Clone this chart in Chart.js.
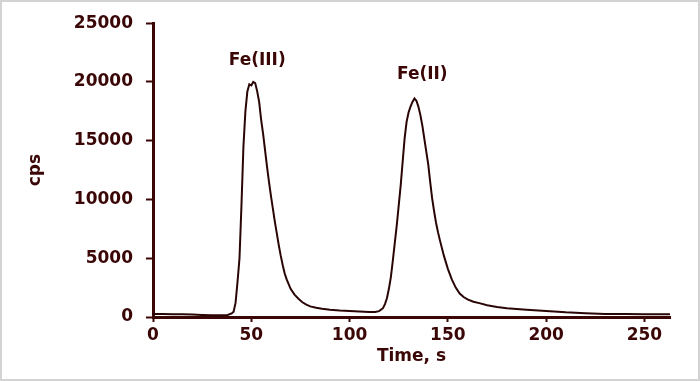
<!DOCTYPE html>
<html>
<head>
<meta charset="utf-8">
<script src="https://cdn.jsdelivr.net/npm/chart.js@4/dist/chart.umd.min.js"></script>
<style>
html,body{margin:0;padding:0;background:#fff;}
#wrap{width:700px;height:381px;position:relative;}
</style>
</head>
<body>
<div id="wrap"><canvas id="c" width="700" height="381"></canvas></div>
<script>
// Data
const times = [0,5,10,15,20,25,30,35,38,40,41,42,43,44,45,46,47,48,49,50,51,52,53,54,55,56,57,58,59,60,61,62,63,64,65,66,67,68,70,72,74,76,78,80,83,86,90,95,100,105,110,113,115,117,118,119,120,121,122,123,124,125,126,127,128,129,130,131,132,133,134,135,136,137,138,139,140,141,142,143,144,145,146,148,150,152,154,156,158,160,163,166,170,175,180,185,190,200,210,220,230,240,250,263];
const cps = [250,250,230,240,220,180,150,150,170,300,450,1200,3000,5000,9500,14500,17500,19200,19800,19700,20000,19900,19200,18300,16800,15600,14200,12800,11500,10300,9200,8100,7100,6100,5200,4400,3700,3200,2400,1900,1550,1250,1050,900,780,700,620,560,520,470,420,430,500,750,1100,1600,2400,3400,4800,6300,7800,9500,11200,13200,15200,16600,17400,17900,18300,18600,18400,17900,17200,16300,15200,14100,13000,11500,10100,9000,8000,7200,6500,5200,4100,3200,2500,2000,1700,1500,1300,1180,1000,850,750,680,620,520,400,320,260,250,240,240];
const yTicks = [0,5000,10000,15000,20000,25000];
const xTicks = [0,50,100,150,200,250];
const peakLabels = ['Fe(III)','Fe(II)'];
const peakLabelTimes = [53,137];
const peakLabelCps = [21800,20600];

const brown = '#3a0606';
const fontFam = '"DejaVu Sans", Verdana, sans-serif';

const points = times.map((t,i)=>({x:t,y:cps[i]}));

const framePlugin = {
  id:'frame',
  beforeDraw(chart){
    const ctx = chart.ctx;
    ctx.save();
    ctx.fillStyle='#fff';
    ctx.fillRect(0,0,chart.width,chart.height);
    ctx.restore();
  },
  afterDraw(chart){
    const ctx = chart.ctx;
    ctx.save();
    ctx.strokeStyle='#d3d3d3';
    ctx.lineWidth=2;
    ctx.strokeRect(1,1,chart.width-2,chart.height-2);
    ctx.restore();
  }
};

const peakLabelPlugin = {
  id:'peakLabels',
  afterDatasetsDraw(chart){
    const ctx = chart.ctx;
    const xs = chart.scales.x, ys = chart.scales.y;
    ctx.save();
    ctx.fillStyle = brown;
    ctx.font = 'bold 17px ' + fontFam;
    ctx.textAlign='center';
    ctx.textBaseline='middle';
    peakLabels.forEach((lab,i)=>{
      ctx.fillText(lab, xs.getPixelForValue(peakLabelTimes[i]), ys.getPixelForValue(peakLabelCps[i]));
    });
    ctx.restore();
  }
};

new Chart(document.getElementById('c'), {
  type:'line',
  data:{
    datasets:[{
      data: points,
      borderColor:'#2a0505',
      borderWidth:2,
      pointRadius:0,
      tension:0,
      fill:false
    }]
  },
  plugins:[framePlugin, peakLabelPlugin],
  options:{
    responsive:false,
    animation:false,
    layout:{padding:{top:22,right:30,left:0,bottom:0}},
    plugins:{legend:{display:false},tooltip:{enabled:false}},
    scales:{
      x:{
        type:'linear',
        min:0,max:263,
        afterBuildTicks(scale){ scale.ticks = xTicks.map(v=>({value:v})); },
        afterFit(scale){ scale.height = 64; },
        border:{display:true,color:brown,width:3},
        grid:{drawOnChartArea:false,drawTicks:true,tickLength:5,tickColor:brown,tickWidth:2},
        ticks:{color:brown,font:{family:fontFam,size:17,weight:'bold'},padding:3,maxRotation:0,callback:v=>String(v)},
        title:{display:true,text:'Time, s',color:brown,font:{family:fontFam,size:17,weight:'bold'},padding:{top:0,bottom:14}}
      },
      y:{
        min:0,max:25000,
        afterBuildTicks(scale){ scale.ticks = yTicks.map(v=>({value:v})); },
        afterFit(scale){ scale.width = 153; },
        border:{display:true,color:brown,width:3},
        grid:{drawOnChartArea:false,drawTicks:true,tickLength:7,tickColor:brown,tickWidth:2},
        ticks:{color:brown,font:{family:fontFam,size:17,weight:'bold'},padding:13,callback:v=>String(v)},
        title:{display:true,text:'cps',color:brown,font:{family:fontFam,size:17,weight:'bold'},padding:{top:25,bottom:0}}
      }
    }
  }
});
</script>
</body>
</html>
